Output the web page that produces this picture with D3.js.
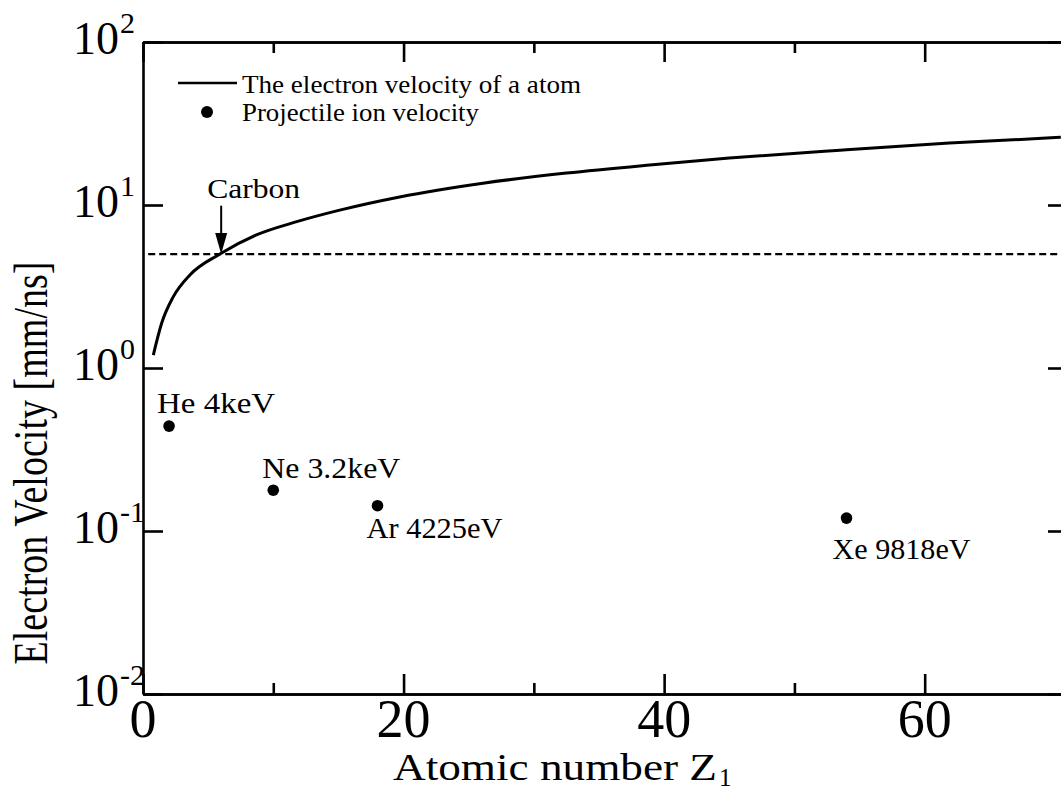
<!DOCTYPE html>
<html>
<head>
<meta charset="utf-8">
<script src="https://cdn.jsdelivr.net/npm/d3@7"></script>
<style>
  html, body { margin: 0; padding: 0; background: #fff; overflow: hidden; }
  svg text { font-family: "Liberation Serif", "Times New Roman", Times, serif; fill: #000; }
</style>
</head>
<body>
<svg id="chart" width="1061" height="791" font-family="Liberation Serif, Times New Roman, serif"></svg>
<script>
// Electron velocity of the target atom vs. atomic number
const curveZ = [0.79, 1.43, 2.33, 3.6, 5.9, 8.7, 11.8, 15.1, 19.7, 26.1, 32.5, 38.9, 45.0, 53.5, 61.9, 70.45];
const curveV = [1.20, 1.88, 2.74, 3.72, 5.0, 6.55, 7.9, 9.3, 11.2, 13.6, 15.7, 17.6, 19.4, 21.7, 24.0, 26.0];

// Projectile ion velocities
const ionZ = [2, 10, 18, 54];
const ionV = [0.44, 0.178, 0.143, 0.12];
const ionLabels = ["He 4keV", "Ne 3.2keV", "Ar 4225eV", "Xe 9818eV"];

// Carbon threshold (dashed line + arrow)
const carbonZ = 6;
const carbonV = 5.0;
const carbonArrowTopV = 9.9;

// Axis ticks
const xMajorTicks = [0, 20, 40, 60];
const xMinorTicks = [10, 30, 50];
const xTickLabels = ["0", "20", "40", "60"];
const yTicks = [1e-2, 1e-1, 1, 10, 100];
const yTickExponents = ["-2", "-1", "0", "1", "2"];

const legendLabels = ["The electron velocity of a atom", "Projectile ion velocity"];

const svg = d3.select("#chart");
const mLeft = 143, mTop = 42, mBottom = 694, mRight = 1068;

const x = d3.scaleLinear().domain([0, 71]).range([mLeft, mRight]);
const y = d3.scaleLog().domain([1e-2, 1e2]).range([mBottom, mTop]);

const AXW = 2.6;

function styleAxis(g) {
  g.selectAll("path.domain").attr("stroke", "#000").attr("stroke-width", AXW);
  g.selectAll(".tick line").attr("stroke", "#000").attr("stroke-width", AXW);
  g.selectAll(".tick text").remove();
}

// frame with inward ticks
svg.append("g").attr("transform", `translate(0,${mBottom})`)
  .call(d3.axisTop(x).tickValues(xMajorTicks).tickSize(20).tickSizeOuter(0).tickFormat(""))
  .call(styleAxis);
svg.append("g").attr("transform", `translate(0,${mBottom})`)
  .call(d3.axisTop(x).tickValues(xMinorTicks).tickSize(11).tickSizeOuter(0).tickFormat(""))
  .call(styleAxis);
svg.append("g").attr("transform", `translate(0,${mTop})`)
  .call(d3.axisBottom(x).tickValues(xMajorTicks).tickSize(20).tickSizeOuter(0).tickFormat(""))
  .call(styleAxis);
svg.append("g").attr("transform", `translate(0,${mTop})`)
  .call(d3.axisBottom(x).tickValues(xMinorTicks).tickSize(11).tickSizeOuter(0).tickFormat(""))
  .call(styleAxis);
svg.append("g").attr("transform", `translate(${mLeft},0)`)
  .call(d3.axisRight(y).tickValues(yTicks).tickSize(20).tickSizeOuter(0).tickFormat(""))
  .call(styleAxis);
svg.append("g").attr("transform", `translate(${mRight},0)`)
  .call(d3.axisLeft(y).tickValues(yTicks).tickSize(20).tickSizeOuter(0).tickFormat(""))
  .call(styleAxis);

// x tick labels
svg.append("g").selectAll("text").data(xMajorTicks).join("text")
  .attr("x", d => x(d)).attr("y", mBottom + 43)
  .attr("text-anchor", "middle")
  .style("font-size", "54px")
  .text((d, i) => xTickLabels[i]);

// y tick labels: 10 with exponent
const yl = svg.append("g").selectAll("g").data(yTicks).join("g");
yl.append("text")
  .attr("x", 119).attr("y", d => y(d) + 12)
  .attr("text-anchor", "end")
  .style("font-size", "46px")
  .text("10");
yl.append("text")
  .attr("x", 120).attr("y", d => y(d) - 9)
  .style("font-size", "30px")
  .text((d, i) => yTickExponents[i]);

// axis titles
svg.append("text")
  .attr("x", 393).attr("y", 780)
  .style("font-size", "38px")
  .attr("textLength", 324).attr("lengthAdjust", "spacingAndGlyphs")
  .text("Atomic number Z");
svg.append("text")
  .attr("x", 719).attr("y", 786)
  .style("font-size", "25px")
  .text("1");

svg.append("g").attr("transform", "translate(47,463) scale(1.25,1)")
  .append("text")
  .attr("transform", "rotate(-90)")
  .attr("text-anchor", "middle")
  .style("font-size", "38px")
  .attr("textLength", 403).attr("lengthAdjust", "spacingAndGlyphs")
  .text("Electron Velocity [mm/ns]");

// plot clip
svg.append("defs").append("clipPath").attr("id", "plotClip")
  .append("rect").attr("x", mLeft).attr("y", mTop).attr("width", mRight - mLeft).attr("height", mBottom - mTop);
const plot = svg.append("g").attr("clip-path", "url(#plotClip)");

// dashed threshold line
plot.append("line")
  .attr("x1", x(0.4)).attr("x2", x(71))
  .attr("y1", y(carbonV)).attr("y2", y(carbonV))
  .attr("stroke", "#000").attr("stroke-width", 2.2)
  .attr("stroke-dasharray", "7,4");

// electron velocity curve
const pts = curveZ.map((z, i) => [z, curveV[i]]);
plot.append("path")
  .datum(pts)
  .attr("fill", "none").attr("stroke", "#000").attr("stroke-width", 3)
  .attr("d", d3.line().x(d => x(d[0])).y(d => y(d[1])).curve(d3.curveMonotoneX));

// ion velocity points
plot.selectAll("circle.ion").data(ionZ).join("circle")
  .attr("class", "ion")
  .attr("cx", d => x(d)).attr("cy", (d, i) => y(ionV[i]))
  .attr("r", 5.8).attr("fill", "#000");

// ion labels
const labelOffsets = [[-12, -13], [-11, -12], [-11, 32], [-14, 41]];
const labelWidths = [118, 138, 136, 138];
svg.append("g").selectAll("text").data(ionZ).join("text")
  .attr("x", (d, i) => x(d) + labelOffsets[i][0])
  .attr("y", (d, i) => y(ionV[i]) + labelOffsets[i][1])
  .style("font-size", "30px")
  .attr("textLength", (d, i) => labelWidths[i]).attr("lengthAdjust", "spacingAndGlyphs")
  .text((d, i) => ionLabels[i]);

// carbon arrow and label
const ax = x(carbonZ), ayTop = y(carbonArrowTopV), ayTip = y(carbonV);
svg.append("line")
  .attr("x1", ax).attr("x2", ax).attr("y1", ayTop).attr("y2", ayTip - 18)
  .attr("stroke", "#000").attr("stroke-width", 2);
svg.append("path")
  .attr("d", `M${ax - 6},${ayTip - 21} L${ax + 6},${ayTip - 21} L${ax},${ayTip} Z`)
  .attr("fill", "#000");
svg.append("text")
  .attr("x", ax - 14).attr("y", ayTop - 8)
  .style("font-size", "27px")
  .attr("textLength", 93).attr("lengthAdjust", "spacingAndGlyphs")
  .text("Carbon");

// legend
svg.append("line")
  .attr("x1", 178).attr("x2", 237).attr("y1", 83).attr("y2", 83)
  .attr("stroke", "#000").attr("stroke-width", 2.5);
svg.append("circle").attr("cx", 207).attr("cy", 112).attr("r", 6).attr("fill", "#000");
svg.append("text").attr("x", 242).attr("y", 93)
  .style("font-size", "25px")
  .attr("textLength", 339).attr("lengthAdjust", "spacingAndGlyphs")
  .text(legendLabels[0]);
svg.append("text").attr("x", 242).attr("y", 121)
  .style("font-size", "25px")
  .attr("textLength", 237).attr("lengthAdjust", "spacingAndGlyphs")
  .text(legendLabels[1]);
</script>
</body>
</html>
